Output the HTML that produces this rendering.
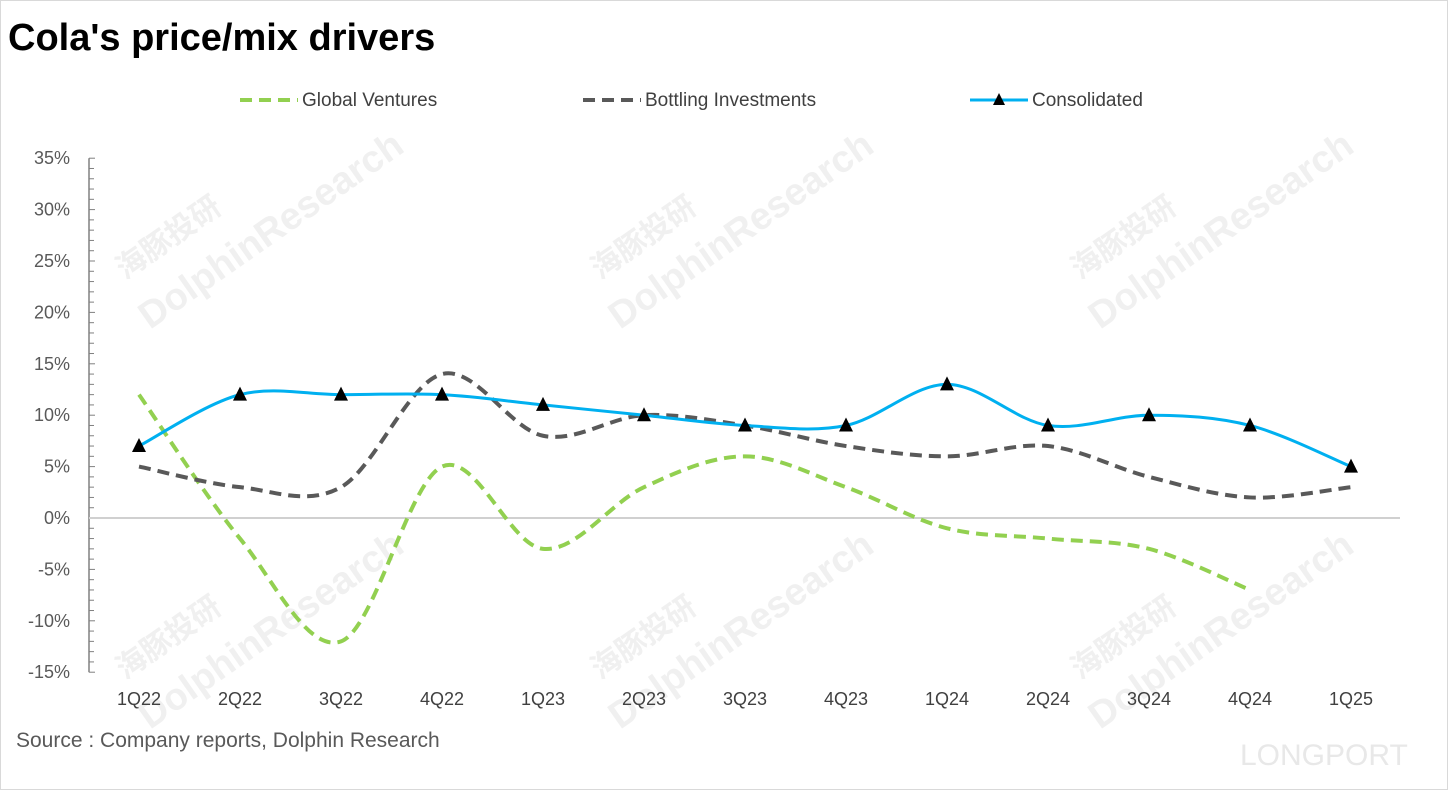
<!DOCTYPE html>
<html><head><meta charset="utf-8"><style>
body{margin:0;background:#fff;width:1449px;height:791px;overflow:hidden;font-family:"Liberation Sans","Noto Sans CJK SC",sans-serif}
</style></head><body>
<svg id="c" width="1449" height="791" xmlns="http://www.w3.org/2000/svg">
<rect x="0.5" y="0.5" width="1447" height="789" fill="#fff" stroke="#d9d9d9"/>
<text x="8" y="50" font-size="38" font-weight="bold" fill="#000">Cola's price/mix drivers</text>
<g fill="#f0f0f0" font-size="38" font-weight="bold">
<text transform="translate(125,280) rotate(-35)" font-size="30">海豚投研</text><text transform="translate(150,330) rotate(-35)">DolphinResearch</text>
<text transform="translate(600,280) rotate(-35)" font-size="30">海豚投研</text><text transform="translate(620,330) rotate(-35)">DolphinResearch</text>
<text transform="translate(1080,280) rotate(-35)" font-size="30">海豚投研</text><text transform="translate(1100,330) rotate(-35)">DolphinResearch</text>
<text transform="translate(125,680) rotate(-35)" font-size="30">海豚投研</text><text transform="translate(150,730) rotate(-35)">DolphinResearch</text>
<text transform="translate(600,680) rotate(-35)" font-size="30">海豚投研</text><text transform="translate(620,730) rotate(-35)">DolphinResearch</text>
<text transform="translate(1080,680) rotate(-35)" font-size="30">海豚投研</text><text transform="translate(1100,730) rotate(-35)">DolphinResearch</text>
<text x="1240" y="765" font-size="30" font-weight="normal" fill="#e8e8e8">LONGPORT</text>
</g>
<g id="legend" font-size="19" fill="#404040">
<g><line x1="240" y1="100" x2="298" y2="100" stroke="#92d050" stroke-width="4" stroke-dasharray="12,7"/><text x="302" y="106">Global Ventures</text></g>
<g><line x1="583" y1="100" x2="641" y2="100" stroke="#595959" stroke-width="4" stroke-dasharray="12,7"/><text x="645" y="106">Bottling Investments</text></g>
<g><line x1="970" y1="100" x2="1028" y2="100" stroke="#00b0f0" stroke-width="3"/><polygon points="999,93 993,105 1005,105" fill="#000"/><text x="1032" y="106">Consolidated</text></g>
</g>
<g id="axes"></g><g id="series"></g>
<text x="16" y="747" font-size="21" fill="#595959">Source : Company reports, Dolphin Research</text>
</svg>
<script>
const categories=["1Q22","2Q22","3Q22","4Q22","1Q23","2Q23","3Q23","4Q23","1Q24","2Q24","3Q24","4Q24","1Q25"];
const globalVentures=[12,-2,-12,5,-3,3,6,3,-1,-2,-3,-7];
const bottlingInvestments=[5,3,3,14,8,10,9,7,6,7,4,2,3];
const consolidated=[7,12,12,12,11,10,9,9,13,9,10,9,5];
const yTicks=[35,30,25,20,15,10,5,0,-5,-10,-15];
const NS="http://www.w3.org/2000/svg";
const X=i=>139+i*101;
const Y=v=>518-v*(514/50);
function mk(t,a,p){const e=document.createElementNS(NS,t);for(const k in a)e.setAttribute(k,a[k]);p.appendChild(e);return e;}
const ax=document.getElementById('axes');
const yl=mk('line',{x1:89,y1:Y(35),x2:89,y2:Y(-15),stroke:'#808080','stroke-width':1.5},ax);


for(let v=-15;v<=35;v++){const len=v%5===0?6:5;mk('line',{x1:89,y1:Y(v),x2:89+len,y2:Y(v),stroke:'#808080','stroke-width':1},ax);}
yTicks.forEach(v=>{const t=mk('text',{x:70,y:Y(v)+6,'text-anchor':'end','font-size':18,fill:'#595959'},ax);t.textContent=v+'%';

});
const zl=mk('line',{x1:89,y1:Y(0),x2:1400,y2:Y(0),stroke:'#d0d0d0','stroke-width':2},ax);


categories.forEach((c,i)=>{const t=mk('text',{x:X(i),y:705,'text-anchor':'middle','font-size':18,fill:'#404040'},ax);t.textContent=c;

});
function path(vals){const p=vals.map((v,i)=>[X(i),Y(v)]);let d='M'+p[0][0]+','+p[0][1];
for(let i=0;i<p.length-1;i++){const p0=p[i-1]||p[i],p1=p[i],p2=p[i+1],p3=p[i+2]||p2;const k=1/6;
d+=' C'+(p1[0]+(p2[0]-p0[0])*k)+','+(p1[1]+(p2[1]-p0[1])*k)+' '+(p2[0]-(p3[0]-p1[0])*k)+','+(p2[1]-(p3[1]-p1[1])*k)+' '+p2[0]+','+p2[1];}
return d;}
const s=document.getElementById('series');
const g1=mk('path',{d:path(globalVentures),fill:'none',stroke:'#92d050','stroke-width':4,'stroke-dasharray':'12,7'},s);


const g2=mk('path',{d:path(bottlingInvestments),fill:'none',stroke:'#595959','stroke-width':4,'stroke-dasharray':'12,7'},s);


const g3=mk('path',{d:path(consolidated),fill:'none',stroke:'#00b0f0','stroke-width':3},s);


consolidated.forEach((v,i)=>{const x=X(i),y=Y(v);const m=mk('polygon',{points:`${x},${y-8} ${x-7},${y+6} ${x+7},${y+6}`,fill:'#000'},s);

});
</script>
</body></html>
